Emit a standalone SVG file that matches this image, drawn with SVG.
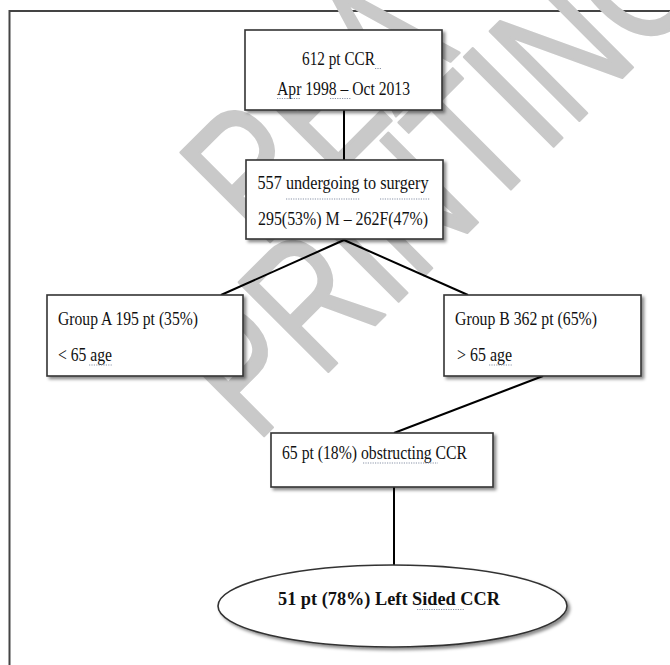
<svg xmlns="http://www.w3.org/2000/svg" width="670" height="665" viewBox="0 0 670 665">
<style>
.box{fill:#fff;stroke:#333;stroke-width:1.6;filter:url(#sh)}
.t{font-family:"Liberation Serif","Times New Roman",serif;font-size:18px;fill:#111}
.b{font-family:"Liberation Serif","Times New Roman",serif;font-size:19.5px;font-weight:bold;fill:#111}
.sq{stroke:#8a94a8;stroke-width:1.2;stroke-dasharray:1.2 1.2;fill:none}
.wm{font-family:"Liberation Sans",Arial,sans-serif;font-size:136px;fill:#c9c9c9;stroke:#c9c9c9;stroke-width:2;stroke-linejoin:round}
.c{stroke:#000;stroke-width:2;fill:none}
</style>
<defs>
<filter id="sh" x="-10%" y="-10%" width="130%" height="140%">
<feDropShadow dx="2.5" dy="2.5" stdDeviation="1.5" flood-color="#000" flood-opacity="0.45"/>
</filter>
</defs>
<rect width="670" height="665" fill="#fff"/>
<g id="frame" stroke="#444" stroke-width="2" fill="none">
<path d="M9.5 665 V11 H670"/>
</g>
<g id="watermark">
<text class="wm" transform="translate(262 250) rotate(-45) scale(1 1.35)">REA</text>
<text class="wm" transform="translate(256 444) rotate(-45) scale(1 1.35)">PRINTING</text>
</g>
<g id="connectors">
<line class="c" x1="344" y1="110" x2="344" y2="160"/>
<line class="c" x1="344" y1="240" x2="221" y2="295"/>
<line class="c" x1="344" y1="240" x2="468" y2="295"/>
<line class="c" x1="543" y1="376" x2="394" y2="433"/>
<line class="c" x1="394" y1="487" x2="394" y2="565"/>
</g>
<g id="n1">
<rect class="box" x="245" y="30" width="197" height="80"/>
<text class="t" x="302" y="65" textLength="73" lengthAdjust="spacingAndGlyphs">612 pt CCR</text>
<text class="t" x="343.5" y="95" text-anchor="middle" textLength="133" lengthAdjust="spacingAndGlyphs">Apr 1998 – Oct 2013</text>
<path class="sq" d="M375 68.5 H381 M277 98.5 H300 M330 98.5 H351"/>
</g>
<g id="n2">
<rect class="box" x="246" y="160" width="197" height="79"/>
<text class="t" x="257.5" y="189" textLength="171" lengthAdjust="spacingAndGlyphs">557 undergoing to surgery</text>
<text class="t" x="258" y="225" textLength="170" lengthAdjust="spacingAndGlyphs">295(53%) M – 262F(47%)</text>
<path class="sq" d="M286 199 H360 M380 199 H430"/>
</g>
<g id="nA">
<rect class="box" x="47" y="295" width="196" height="81"/>
<text class="t" x="58" y="325" textLength="140" lengthAdjust="spacingAndGlyphs">Group A 195 pt (35%)</text>
<text class="t" x="58" y="361" textLength="54" lengthAdjust="spacingAndGlyphs">&lt; 65 age</text>
<path class="sq" d="M89 365 H112"/>
</g>
<g id="nB">
<rect class="box" x="444" y="295" width="197" height="81"/>
<text class="t" x="455" y="325" textLength="142" lengthAdjust="spacingAndGlyphs">Group B 362 pt (65%)</text>
<text class="t" x="457" y="361" textLength="55" lengthAdjust="spacingAndGlyphs">&gt; 65 age</text>
<path class="sq" d="M489 365 H512"/>
</g>
<g id="nC">
<rect class="box" x="271" y="433" width="222" height="54"/>
<text class="t" x="282" y="459" textLength="185" lengthAdjust="spacingAndGlyphs">65 pt (18%) obstructing CCR</text>
<path class="sq" d="M363 463 H438"/>
</g>
<g id="nD">
<ellipse cx="392.5" cy="606" rx="174.5" ry="41" fill="#fff" stroke="#333" stroke-width="1.6" filter="url(#sh)"/>
<text class="b" x="389" y="605" text-anchor="middle" textLength="222" lengthAdjust="spacingAndGlyphs">51 pt (78%) Left Sided CCR</text>
<path class="sq" d="M417 609.5 H465"/>
</g>
</svg>
